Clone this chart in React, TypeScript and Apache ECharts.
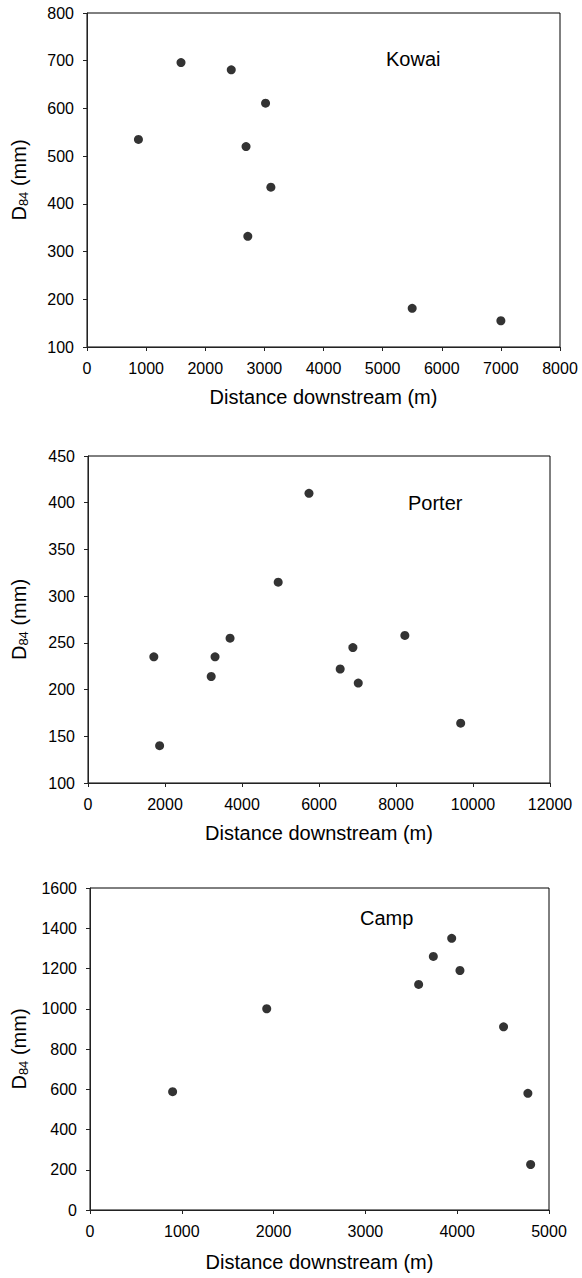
import React, { useEffect, useRef } from "react";
import * as echarts from "echarts";

// Kowai
const kowaiX = [870, 1590, 2440, 3020, 2690, 3110, 2720, 5500, 7000];
const kowaiY = [535, 696, 681, 611, 520, 435, 332, 181, 155];
// Porter
const porterX = [5740, 4940, 3690, 3300, 1710, 3200, 1860, 6550, 6880, 7020, 8230, 9680];
const porterY = [410, 315, 255, 235, 235, 214, 140, 222, 245, 207, 258, 164];
// Camp
const campX = [900, 1925, 3580, 3740, 3940, 4030, 4505, 4770, 4800];
const campY = [588, 1000, 1121, 1260, 1350, 1190, 910, 580, 226];

const siteNames = ["Kowai", "Porter", "Camp"];
const xTitle = "Distance downstream (m)";

const FONT = "'Liberation Sans', Arial, sans-serif";

function zip(xs: number[], ys: number[]) {
  return xs.map((x, i) => [x, ys[i]]);
}

export default function App() {
  const ref = useRef<HTMLDivElement>(null);
  useEffect(() => {
    if (!ref.current) return;
    const chart = echarts.init(ref.current, undefined, { renderer: "svg" });
    const grids = [
      { left: 87, top: 13, width: 473, height: 334 },
      { left: 88, top: 456, width: 462, height: 327 },
      { left: 90, top: 888, width: 459, height: 322 },
    ];
    const xRanges = [
      { min: 0, max: 8000, interval: 1000, nameGap: 40 },
      { min: 0, max: 12000, interval: 2000, nameGap: 40 },
      { min: 0, max: 5000, interval: 1000, nameGap: 42 },
    ];
    const yRanges = [
      { min: 100, max: 800, interval: 100, nameGap: 57 },
      { min: 100, max: 450, interval: 50, nameGap: 58 },
      { min: 0, max: 1600, interval: 200, nameGap: 60 },
    ];
    const axisCommon = {
      type: "value" as const,
      splitLine: { show: false },
      axisLine: { show: true, lineStyle: { color: "#222", width: 1 } },
      axisTick: { show: true, inside: false, length: 4, lineStyle: { color: "#222" } },
      axisLabel: {
        color: "#000",
        fontSize: 16,
        fontFamily: FONT,
        margin: 13,
        formatter: (v: number) => String(v),
      },
    };
    const rich = {
      d: { fontSize: 20, fontFamily: FONT, color: "#000", lineHeight: 22, verticalAlign: "middle" },
      s: { fontSize: 13, fontFamily: FONT, color: "#000", lineHeight: 10, verticalAlign: "bottom" },
    };
    const labels = [
      { left: 386, top: 60 },
      { left: 408, top: 504 },
      { left: 360, top: 919 },
    ];
    chart.setOption({
      animation: false,
      grid: grids.map((g) => ({
        ...g,
        show: true,
        borderColor: "#000",
        borderWidth: 1,
        backgroundColor: "transparent",
      })),
      xAxis: xRanges.map((r, i) => ({
        ...axisCommon,
        gridIndex: i,
        min: r.min,
        max: r.max,
        interval: r.interval,
        name: xTitle,
        nameLocation: "middle",
        nameGap: r.nameGap,
        nameTextStyle: { fontSize: 20, fontFamily: FONT, color: "#000" },
      })),
      yAxis: yRanges.map((r, i) => ({
        ...axisCommon,
        gridIndex: i,
        min: r.min,
        max: r.max,
        interval: r.interval,
        name: "{d|D}{s|84}{d| (mm)}",
        nameLocation: "middle",
        nameGap: r.nameGap,
        nameTextStyle: { rich },
      })),
      series: [
        zip(kowaiX, kowaiY),
        zip(porterX, porterY),
        zip(campX, campY),
      ].map((data, i) => ({
        type: "scatter",
        xAxisIndex: i,
        yAxisIndex: i,
        data,
        symbol: "circle",
        symbolSize: 9,
        itemStyle: { color: "#000" },
      })),
      graphic: labels.map((l, i) => ({
        type: "text",
        left: l.left,
        top: l.top - 11,
        style: { text: siteNames[i], fontSize: 20, fontFamily: FONT, fill: "#000" },
      })),
    });
    return () => chart.dispose();
  }, []);
  return (
    <div
      ref={ref}
      style={{ position: "absolute", left: 0, top: 0, width: 582, height: 1278, background: "#fff" }}
    />
  );
}
